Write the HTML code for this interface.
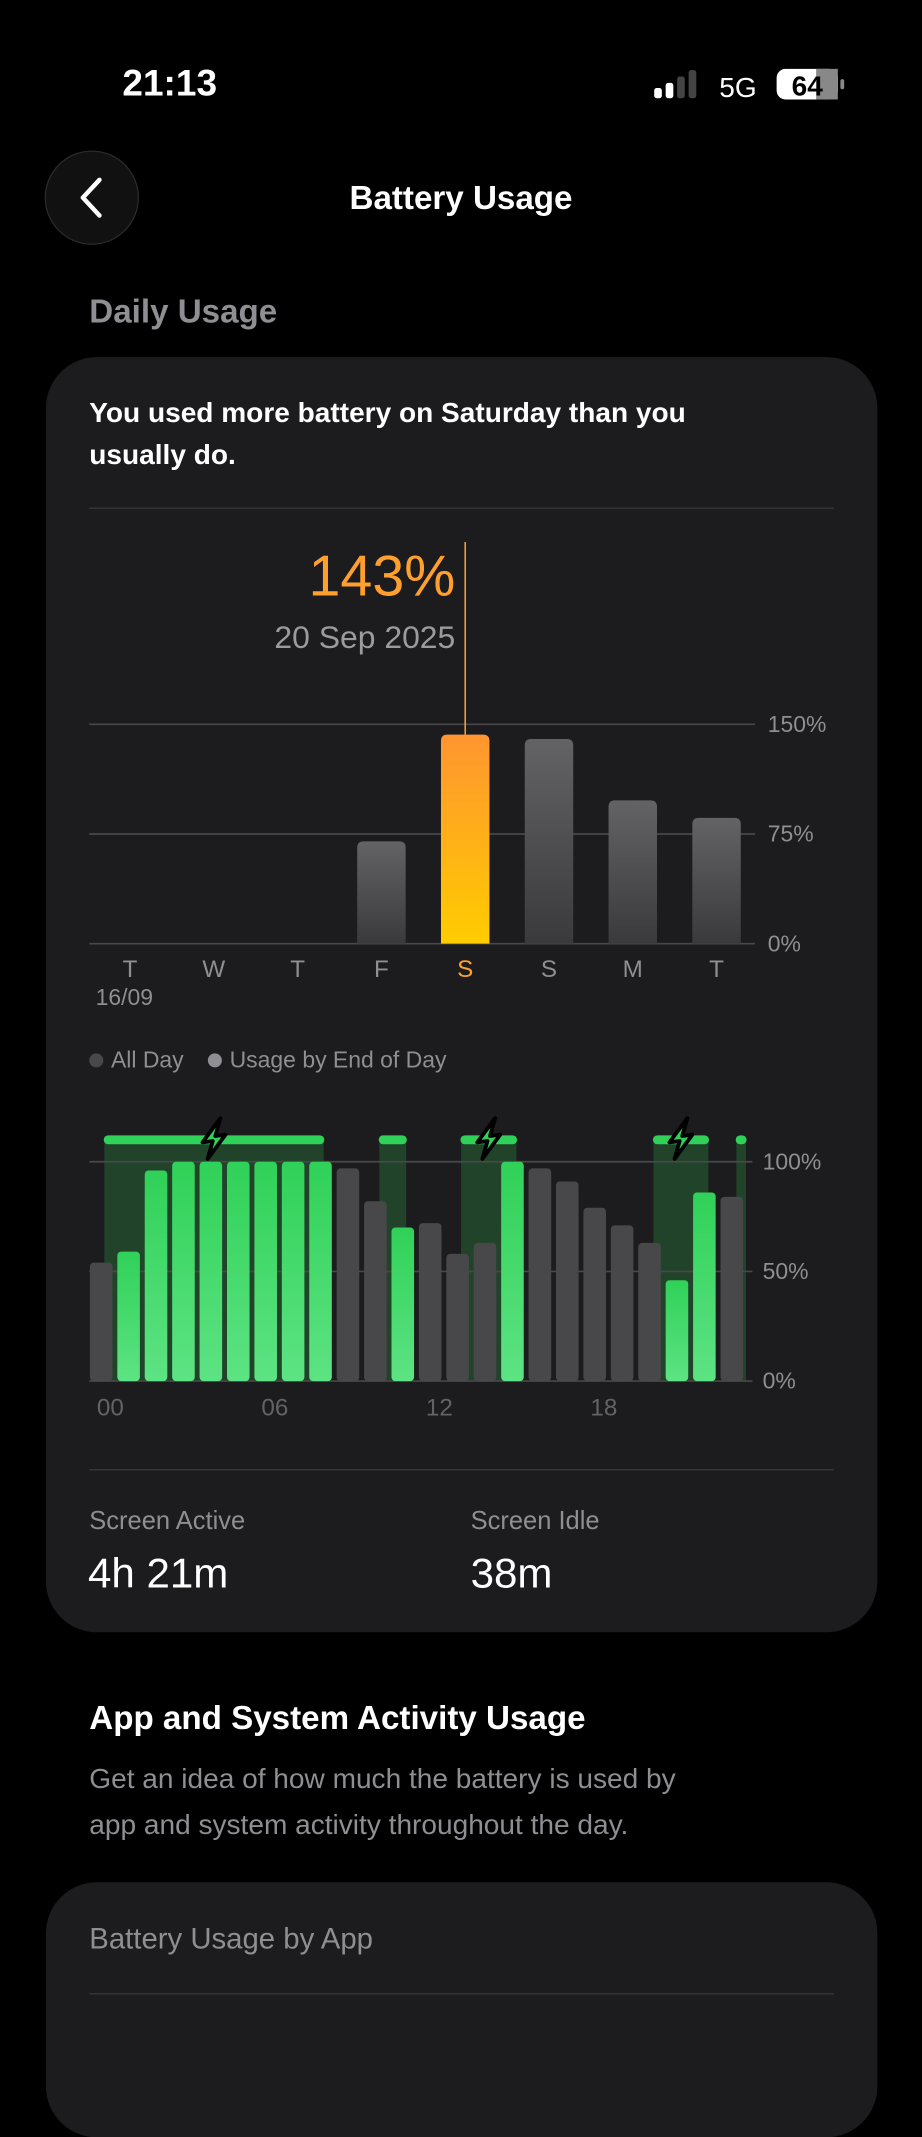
<!DOCTYPE html>
<html><head><meta charset="utf-8">
<style>
html,body{margin:0;padding:0;background:#000;width:922px;height:2000px;overflow:hidden}
#root{position:absolute;left:0;top:0;width:723px;height:1568px;transform:scale(1.27524);transform-origin:0 0;font-family:"Liberation Sans",sans-serif;color:#fff}
.abs{position:absolute;white-space:nowrap}
.card{position:absolute;left:36px;width:652px;background:#1c1c1e;border-radius:40px}
.gray{color:#8e8e93}
</style></head><body>
<div id="root">
 <div class="abs" style="left:96px;top:50px;font-size:29px;font-weight:bold">21:13</div>
 <svg class="abs" style="left:510px;top:52px" width="160" height="30">
  <rect x="3" y="17" width="6" height="8" rx="2" fill="#fff"/><rect x="12" y="13" width="6" height="12" rx="2" fill="#fff"/>
  <rect x="21" y="8" width="6" height="17" rx="2" fill="#444"/><rect x="30" y="3" width="6" height="22" rx="2" fill="#444"/>
  <text x="54" y="24" font-size="22" fill="#fff" font-family="Liberation Sans">5G</text>
  <rect x="99" y="2" width="48" height="24" rx="7" fill="#fff"/><rect x="130" y="2" width="17" height="24" fill="#888"/>
  <rect x="149" y="10" width="3" height="8" rx="1.5" fill="#888"/>
  <text x="123" y="23" font-size="22" font-weight="bold" text-anchor="middle" fill="#000" font-family="Liberation Sans">64</text>
 </svg>
 <div class="abs" style="left:35px;top:118px;width:74px;height:74px;border-radius:50%;background:#111;border:1px solid #2a2a2c;box-sizing:border-box">
  <svg width="74" height="74"><path d="M42 22 L29 36 L42 50" stroke="#fff" stroke-width="3.5" fill="none" stroke-linecap="round" stroke-linejoin="round"/></svg>
 </div>
 <div class="abs" style="left:0;width:723px;text-align:center;top:140px;font-size:26px;font-weight:bold">Battery Usage</div>
 <div class="abs gray" style="left:70px;top:229px;font-size:26px;font-weight:bold">Daily Usage</div>

 <div class="card" style="top:280px;height:1000px"></div>
 <div class="abs" style="left:70px;top:307px;font-size:22px;font-weight:bold;line-height:33px">You used more battery on Saturday than you<br>usually do.</div>
 <div class="abs" style="left:70px;top:398px;width:584px;height:1px;background:#38383a"></div>

 <div class="abs" style="right:366px;top:426px;font-size:45px;color:#ff9f2e">143%</div>
 <div class="abs gray" style="right:366px;top:486px;font-size:25px;color:#9a9a9f">20 Sep 2025</div>

 <svg class="abs" id="weekly" style="left:0;top:400px" width="723" height="400"></svg>

 <div class="abs gray" style="left:70px;top:821px;font-size:18px">
  <span><span style="display:inline-block;width:11px;height:11px;border-radius:50%;background:#48484a;margin-right:6px"></span>All Day</span>
  <span style="margin-left:14px"><span style="display:inline-block;width:11px;height:11px;border-radius:50%;background:#8e8e93;margin-right:6px"></span>Usage by End of Day</span>
 </div>

 <svg class="abs" id="hourly" style="left:0;top:860px" width="723" height="260"></svg>

 <div class="abs" style="left:70px;top:1152px;width:584px;height:1px;background:#38383a"></div>
 <div class="abs gray" style="left:70px;top:1182px;font-size:20px">Screen Active</div>
 <div class="abs" style="left:69px;top:1215px;font-size:33px">4h 21m</div>
 <div class="abs gray" style="left:369px;top:1182px;font-size:20px">Screen Idle</div>
 <div class="abs" style="left:369px;top:1215px;font-size:33px">38m</div>

 <div class="abs" style="left:70px;top:1332px;font-size:26px;font-weight:bold">App and System Activity Usage</div>
 <div class="abs gray" style="left:70px;top:1377px;font-size:22px;line-height:36px">Get an idea of how much the battery is used by<br>app and system activity throughout the day.</div>

 <div class="card" style="top:1476px;height:200px"></div>
 <div class="abs gray" style="left:70px;top:1507px;font-size:23px">Battery Usage by App</div>
 <div class="abs" style="left:70px;top:1563px;width:584px;height:1px;background:#38383a"></div>
</div>
<script>
const dayLabels=["T","W","T","F","S","S","M","T"];
const dayValues=[0,0,0,70,143,140,98,86];
const selectedDay=4;
const weekTicks=[0,75,150];
const hourValues=[54,59,96,100,100,100,100,100,100,97,82,70,72,58,63,100,97,91,79,71,63,46,86,84];
const hourCharging=[0,1,1,1,1,1,1,1,1,0,0,1,0,0,0,1,0,0,0,0,0,1,1,0];
const chargeStart=[0.55,10.58,13.56,20.58,23.6];
const chargeEnd=[8.55,11.56,15.58,22.58,23.95];
const boltRegions=[0,2,3];
const hourTicks=[0,50,100];
const hourLabels=["00","06","12","18"];
const NS="http://www.w3.org/2000/svg";
function mk(p,tag,attrs){const e=document.createElementNS(NS,tag);for(const k in attrs)e.setAttribute(k,attrs[k]);p.appendChild(e);return e;}
(function(){
 const s=document.getElementById('weekly');
 const d=mk(s,'defs',{});
 let g=mk(d,'linearGradient',{id:'gg',x1:0,y1:0,x2:0,y2:1});mk(g,'stop',{offset:0,'stop-color':'#636366'});mk(g,'stop',{offset:1,'stop-color':'#3a3a3c'});
 g=mk(d,'linearGradient',{id:'og',x1:0,y1:0,x2:0,y2:1});mk(g,'stop',{offset:0,'stop-color':'#ff9530'});mk(g,'stop',{offset:1,'stop-color':'#ffcc00'});
 const y0=340,ymax=168;const y=v=>y0-v/150*(y0-ymax);
 const x=i=>102+i*65.7;
 weekTicks.forEach(t=>{
  const l=mk(s,'line',{x1:70,x2:592,y1:y(t),y2:y(t),stroke:'#48484a','stroke-width':1.3});
  
  const tx=mk(s,'text',{x:602,y:y(t)+6,'font-size':18,fill:'#8e8e93','font-family':'Liberation Sans'});tx.textContent=t+'%';
  
 });
 const ln=mk(s,'line',{x1:x(selectedDay),x2:x(selectedDay),y1:25,y2:y(dayValues[selectedDay]),stroke:'#ff9f2e','stroke-width':1.2});
 
 dayValues.forEach((v,i)=>{
  if(v>0){
   const b=mk(s,'path',{d:`M${x(i)-19} ${y0} V${y(v)+5} Q${x(i)-19} ${y(v)} ${x(i)-14} ${y(v)} H${x(i)+14} Q${x(i)+19} ${y(v)} ${x(i)+19} ${y(v)+5} V${y0} Z`,fill:i===selectedDay?'url(#og)':'url(#gg)'});
   }
  const t=mk(s,'text',{x:x(i),y:366,'font-size':19,'text-anchor':'middle',fill:i===selectedDay?'#ff9f2e':'#8e8e93','font-family':'Liberation Sans'});t.textContent=dayLabels[i];
  
 });
 const dt=mk(s,'text',{x:75,y:388,'font-size':18,fill:'#8e8e93','font-family':'Liberation Sans'});dt.textContent='16/09';
 
})();
(function(){
 const s=document.getElementById('hourly');
 const d=mk(s,'defs',{});
 let g=mk(d,'linearGradient',{id:'hg',x1:0,y1:0,x2:0,y2:1});mk(g,'stop',{offset:0,'stop-color':'#30d158'});mk(g,'stop',{offset:1,'stop-color':'#5de383'});
 const y0=223,y100=51;const y=v=>y0-v/100*(y0-y100);
 const bw=21.5,x=h=>70+h*bw;
 chargeStart.forEach((a,i)=>{
  const r=mk(s,'rect',{x:x(a),y:y(110),width:x(chargeEnd[i])-x(a),height:y0-y(110),fill:'rgba(48,209,88,0.22)'});
  
  const c=mk(s,'line',{x1:x(a)+3,x2:x(chargeEnd[i])-3,y1:y(110),y2:y(110),stroke:'#30d158','stroke-width':7,'stroke-linecap':'round'});
  
 });
 hourTicks.forEach(t=>{
  const l=mk(s,'line',{x1:70,x2:590,y1:y(t),y2:y(t),stroke:'#48484a','stroke-width':1.3});
  
  const tx=mk(s,'text',{x:598,y:y(t)+6,'font-size':18,fill:'#8e8e93','font-family':'Liberation Sans'});tx.textContent=t+'%';
  
 });
 hourValues.forEach((v,i)=>{
  const b=mk(s,'rect',{x:x(i)+0.5,y:y(v),width:bw-3.8,height:y0-y(v),rx:3,fill:hourCharging[i]?'url(#hg)':'#48484a'});
  
 });
 boltRegions.forEach(i=>{
  const cx=(x(chargeStart[i])+x(chargeEnd[i]))/2,cy=y(110)-1;
  const p=mk(s,'path',{d:`M${cx+5} ${cy-16} L${cx-9} ${cy+3} L${cx-1} ${cy+2} L${cx-5} ${cy+16} L${cx+9} ${cy-3} L${cx+1} ${cy-2} Z`,fill:'#30d158',stroke:'#000','stroke-width':3,'stroke-linejoin':'round'});
  
 });
 hourLabels.forEach((l,i)=>{
  const t=mk(s,'text',{x:x(i*6)+6,y:250,'font-size':19,fill:'#636366','font-family':'Liberation Sans'});t.textContent=l;
  
 });
})();
</script>
</body></html>
